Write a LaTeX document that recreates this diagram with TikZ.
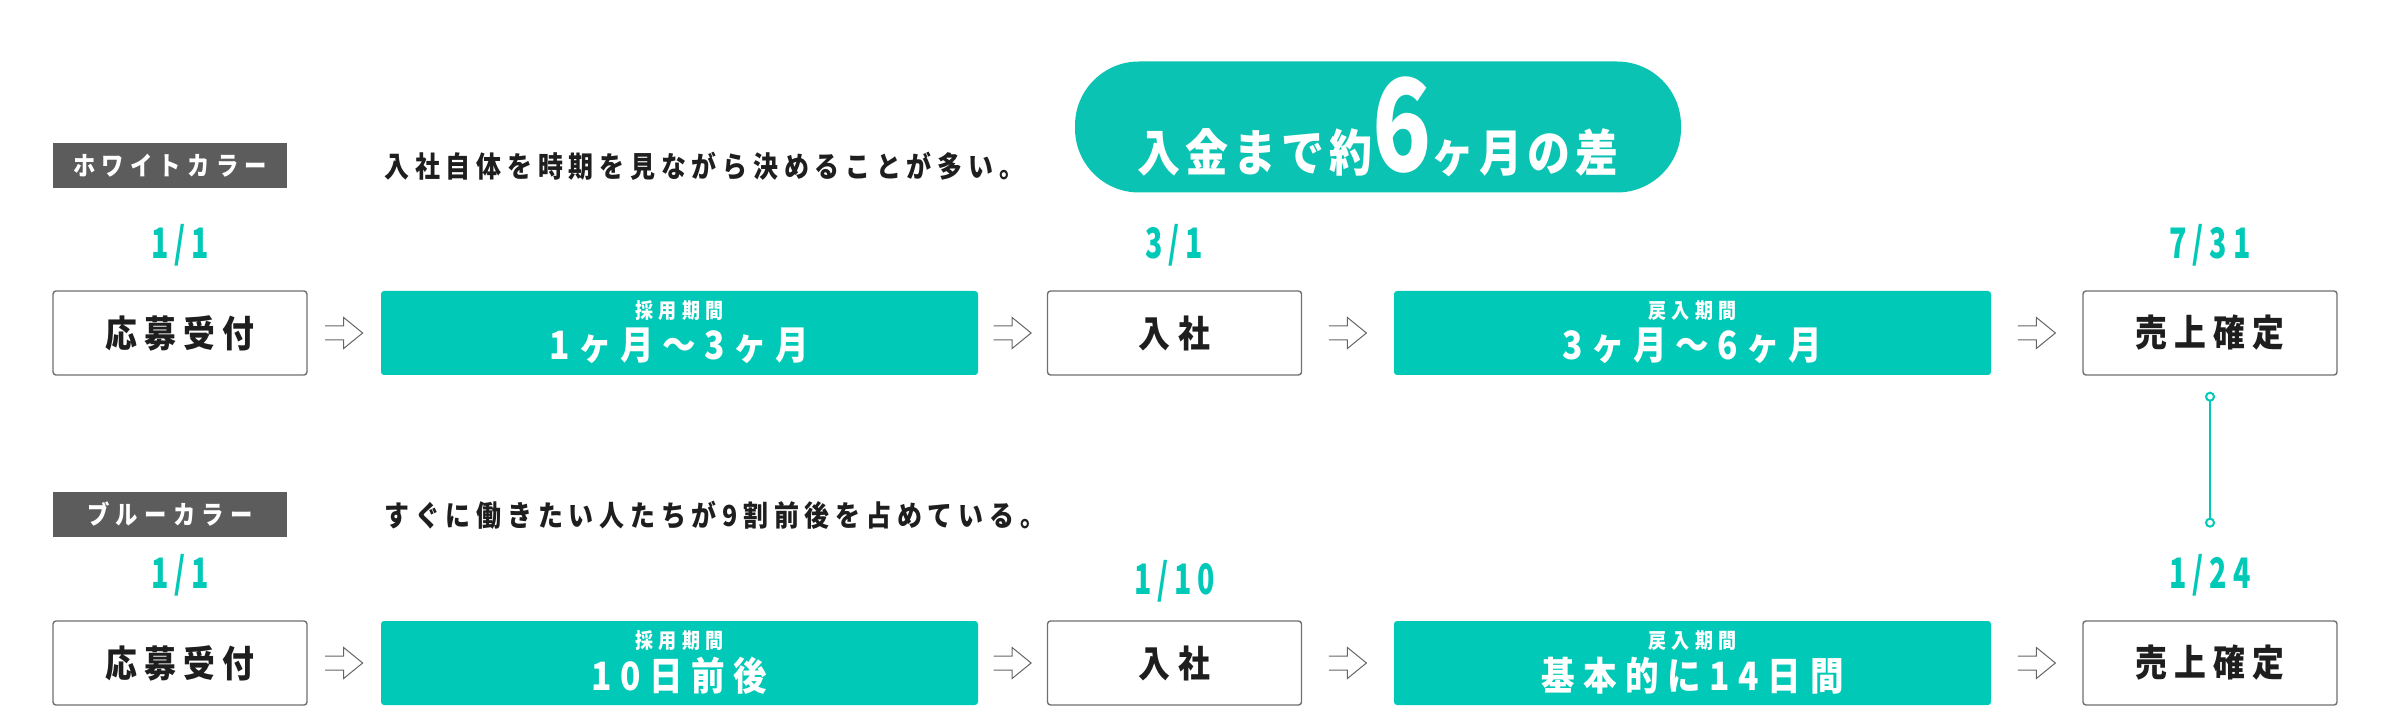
\documentclass[tikz,border=0pt]{standalone}
\usepackage{fontspec}
\setmainfont{Noto Sans CJK JP}[FakeStretch=0.86]
\newfontfamily\datefont{Noto Sans CJK JP}[FakeStretch=0.68, LetterSpace=14]
\newfontfamily\bigfont{Noto Sans CJK JP}[FakeStretch=0.76]
\usetikzlibrary{arrows.meta, positioning, calc}
\definecolor{cteal}{HTML}{00C9B7}
\definecolor{cpill}{HTML}{0BC3B2}
\definecolor{cdark}{HTML}{5C5C5C}
\definecolor{cline}{HTML}{707070}
\definecolor{cink}{HTML}{1E1E1E}
\tikzset{
  tag/.style={fill=cdark, text=white, minimum width=117pt, minimum height=22.5pt, inner sep=0pt,
    font=\bfseries\fontsize{13}{15}\selectfont\addfontfeature{LetterSpace=24}},
  desc/.style={text=cink, inner sep=0pt, font=\bfseries\fontsize{14.5}{17}\selectfont\addfontfeature{LetterSpace=20}},
  stepbox/.style={draw=cline, line width=0.7pt, fill=white, rounded corners=1.5pt, minimum width=#1, minimum height=42pt,
    inner sep=0pt, text=cink, font=\bfseries\fontsize{18.5}{21}\selectfont\addfontfeature{LetterSpace=20}},
  stepbox/.default=127pt,
  periodbox/.style={fill=cteal, rounded corners=1.5pt, minimum width=298.5pt, minimum height=42pt, inner sep=0pt},
  periodsub/.style={text=white, inner sep=0pt, font=\bfseries\fontsize{10.5}{12}\selectfont\addfontfeature{LetterSpace=25}},
  periodmain/.style={text=white, inner sep=0pt, font=\bfseries\fontsize{19.5}{22}\selectfont\addfontfeature{LetterSpace=22}},
  datelbl/.style={text=cteal, inner sep=0pt, font=\datefont\bfseries\fontsize{21}{24}\selectfont},
  hollowline/.style={draw=cline!90!black, line width=0.5pt, line join=miter},
  pill/.style={fill=cpill, rounded corners=32pt, minimum width=303pt, minimum height=65.5pt, inner sep=0pt,
    text=white, font=\bfseries\fontsize{25}{28}\selectfont\addfontfeature{LetterSpace=10}},
  link/.style={draw=cteal, line width=1pt, {Circle[open, fill=white, length=5pt, line width=1pt]}-{Circle[open, fill=white, length=5pt, line width=1pt]}},
}
% teal period box with a small heading and the period itself
\newcommand{\period}[5]{% name, x, y, heading, period
  \node[periodbox] (#1) at (#2,#3) {};
  \node[periodsub] (#1h) at ([yshift=11pt]#1.center) {#4};
  \node[periodmain] (#1m) at ([yshift=-6.5pt]#1.center) {#5};}
% open-ended hollow arrow around a named coordinate
\newcommand{\hollowarrow}[1]{%
  \draw[hollowline, shift={(#1)}] (-9.5pt,3.5pt) -- (-0.25pt,3.5pt) -- (-0.25pt,7.75pt) -- (9.25pt,0pt)
    -- (-0.25pt,-7.75pt) -- (-0.25pt,-3.5pt) -- (-9.5pt,-3.5pt);}

\begin{document}
\begin{tikzpicture}[x=0.5pt, y=-0.5pt]
  \useasboundingbox (0,0) rectangle (2392,716);
  % headline
  \node[pill] (gap) at (1378,127) {入金まで約{\bigfont\bfseries\fontsize{64}{64}\selectfont 6}ヶ月の差};
  % white collar
  \node[tag] (wtag) at (170,165.5) {ホワイトカラー};
  \node[desc, anchor=west] (wdesc) at (384,166) {入社自体を時期を見ながら決めることが多い。};
  \node[stepbox] (apply1) at (180,333) {応募受付};
  \period{hire1}{679.5}{333}{採用期間}{1ヶ月～3ヶ月}
  \node[stepbox] (join1) at (1174.5,333) {入社};
  \period{back1}{1692.5}{333}{戻入期間}{3ヶ月～6ヶ月}
  \node[stepbox] (sales1) at (2210,333) {売上確定};
  \node[datelbl, above=12pt of apply1] (d11) {1/1};
  \node[datelbl, above=12pt of join1] (d12) {3/1};
  \node[datelbl, above=12pt of sales1] (d13) {7/31};
  % blue collar
  \node[tag] (btag) at (170,514.5) {ブルーカラー};
  \node[desc, anchor=west] (bdesc) at (384,515) {すぐに働きたい人たちが9割前後を占めている。};
  \node[stepbox] (apply2) at (180,663) {応募受付};
  \period{hire2}{679.5}{663}{採用期間}{10日前後}
  \node[stepbox] (join2) at (1174.5,663) {入社};
  \period{back2}{1692.5}{663}{戻入期間}{基本的に14日間}
  \node[stepbox] (sales2) at (2210,663) {売上確定};
  \node[datelbl, above=12pt of apply2] (d21) {1/1};
  \node[datelbl, above=9pt of join2] (d22) {1/10};
  \node[datelbl, above=12pt of sales2] (d23) {1/24};
  % hollow arrows between the steps
  \foreach \r in {1,2} {
    \coordinate (a\r1) at ($(apply\r.east)!0.5!(hire\r.west)$);
    \coordinate (a\r2) at ($(hire\r.east)!0.5!(join\r.west)$);
    \coordinate (a\r3) at ($(join\r.east)!0.5!(back\r.west)$);
    \coordinate (a\r4) at ($(back\r.east)!0.5!(sales\r.west)$);
    \hollowarrow{a\r1} \hollowarrow{a\r2} \hollowarrow{a\r3} \hollowarrow{a\r4}
  }
  % both sales dates
  \coordinate (l1) at ([yshift=-8pt]sales1.south);
  \coordinate (l2) at ([yshift=13pt]d23.north);
  \draw[link] (l1) -- (l2);
\end{tikzpicture}
\end{document}
